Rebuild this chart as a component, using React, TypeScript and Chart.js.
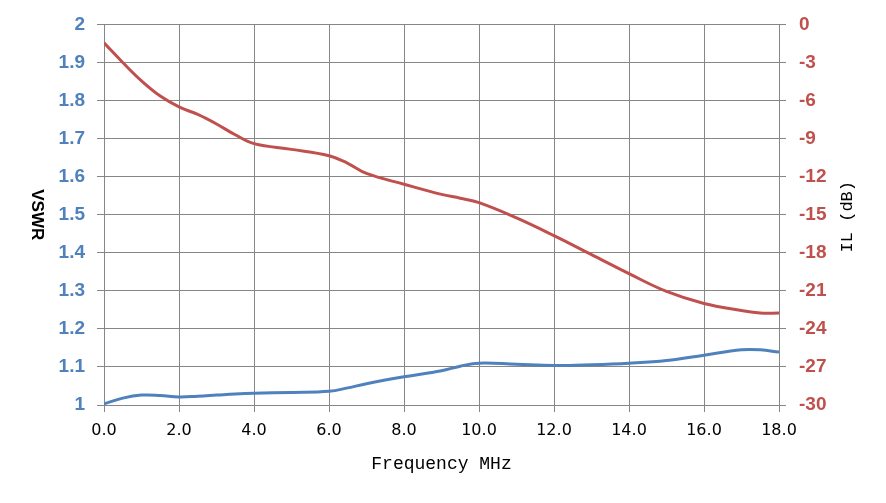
import React, { useEffect, useRef } from "react";
import { Chart, registerables } from "chart.js";

Chart.register(...registerables);

const freqMHz = [0, 0.5, 1, 1.5, 2, 2.5, 3, 3.5, 4, 5, 6, 6.5, 7, 8, 9, 9.5, 10, 11, 12, 13, 14, 15, 16, 17, 17.5, 18];
const vswr = [1.003, 1.018, 1.026, 1.025, 1.021, 1.023, 1.026, 1.029, 1.031, 1.033, 1.036, 1.045, 1.056, 1.074, 1.09, 1.102, 1.11, 1.107, 1.104, 1.106, 1.11, 1.117, 1.131, 1.145, 1.145, 1.139];
const ilDb = [-1.45, -3.0, -4.45, -5.65, -6.5, -7.1, -7.85, -8.7, -9.4, -9.85, -10.35, -10.95, -11.75, -12.6, -13.4, -13.7, -14.05, -15.25, -16.65, -18.15, -19.65, -21.05, -22.0, -22.55, -22.75, -22.75];

const xAxisTitle = "Frequency MHz";
const leftAxisTitle = "VSWR";
const rightAxisTitle = "IL (dB)";

const BLUE = "#4F81BD";
const RED = "#C0504D";
const GRID = "#868686";

const axisTitlesPlugin = {
  id: "axisTitles",
  afterDraw(chart: any) {
    const { ctx, chartArea } = chart;
    const cy = (chartArea.top + chartArea.bottom) / 2;
    const cx = (chartArea.left + chartArea.right) / 2;
    ctx.save();
    ctx.fillStyle = "#000";
    ctx.textAlign = "center";
    ctx.textBaseline = "middle";

    ctx.save();
    ctx.translate(37, cy);
    ctx.rotate(Math.PI / 2);
    ctx.font = 'bold 17px "Liberation Sans"';
    ctx.fillText(leftAxisTitle, 0, 0);
    ctx.restore();

    ctx.save();
    ctx.translate(847, cy + 2);
    ctx.rotate(-Math.PI / 2);
    ctx.font = '17px "Liberation Mono"';
    ctx.fillText(rightAxisTitle, 0, 0);
    ctx.restore();

    ctx.font = '18px "Liberation Mono"';
    ctx.fillText(xAxisTitle, cx, 464);
    ctx.restore();
  },
};

export default function App() {
  const ref = useRef<HTMLCanvasElement | null>(null);

  useEffect(() => {
    if (!ref.current) return;
    const chart = new Chart(ref.current, {
      type: "line",
      data: {
        datasets: [
          {
            label: "IL",
            data: freqMHz.map((f, i) => ({ x: f, y: ilDb[i] })),
            borderColor: RED,
            borderWidth: 3,
            pointRadius: 0,
            tension: 0.4,
            yAxisID: "y1",
          },
          {
            label: "VSWR",
            data: freqMHz.map((f, i) => ({ x: f, y: vswr[i] })),
            borderColor: BLUE,
            borderWidth: 3,
            pointRadius: 0,
            tension: 0.4,
            yAxisID: "y",
          },
        ],
      },
      options: {
        animation: false,
        responsive: true,
        maintainAspectRatio: false,
        layout: { padding: { top: 23 } },
        plugins: { legend: { display: false }, tooltip: { enabled: false } },
        scales: {
          x: {
            type: "linear",
            position: "bottom",
            min: 0,
            max: 18,
            ticks: {
              stepSize: 2,
              autoSkip: false,
              maxRotation: 0,
              color: "#000",
              padding: 9,
              font: { family: '"DejaVu Sans"', size: 16 },
              callback: (v: any) => Number(v).toFixed(1),
            },
            grid: { color: GRID, lineWidth: 1, tickLength: 7 },
            border: { color: GRID, width: 1 },
            afterFit: (s: any) => {
              s.height = 98;
            },
          },
          y: {
            type: "linear",
            position: "left",
            min: 1,
            max: 2,
            ticks: {
              stepSize: 0.1,
              color: BLUE,
              padding: 12,
              font: { family: '"Liberation Sans"', size: 19, weight: "bold" },
              callback: (v: any) => String(Number(Number(v).toFixed(1))),
            },
            grid: { color: GRID, lineWidth: 1, tickLength: 7 },
            border: { color: GRID, width: 1 },
            afterFit: (s: any) => {
              s.width = 104;
            },
          },
          y1: {
            type: "linear",
            position: "right",
            min: -30,
            max: 0,
            ticks: {
              stepSize: 3,
              color: RED,
              padding: 13,
              font: { family: '"Liberation Sans"', size: 19, weight: "bold" },
              callback: (v: any) => String(Math.round(Number(v))),
            },
            grid: { color: GRID, lineWidth: 1, tickLength: 7, drawOnChartArea: false },
            border: { color: GRID, width: 1 },
            afterFit: (s: any) => {
              s.width = 107;
            },
          },
        },
      },
      plugins: [axisTitlesPlugin],
    });
    return () => chart.destroy();
  }, []);

  return (
    <div style={{ position: "absolute", left: 0, top: 0, width: 886, height: 503, background: "#fff" }}>
      <canvas ref={ref} />
    </div>
  );
}
